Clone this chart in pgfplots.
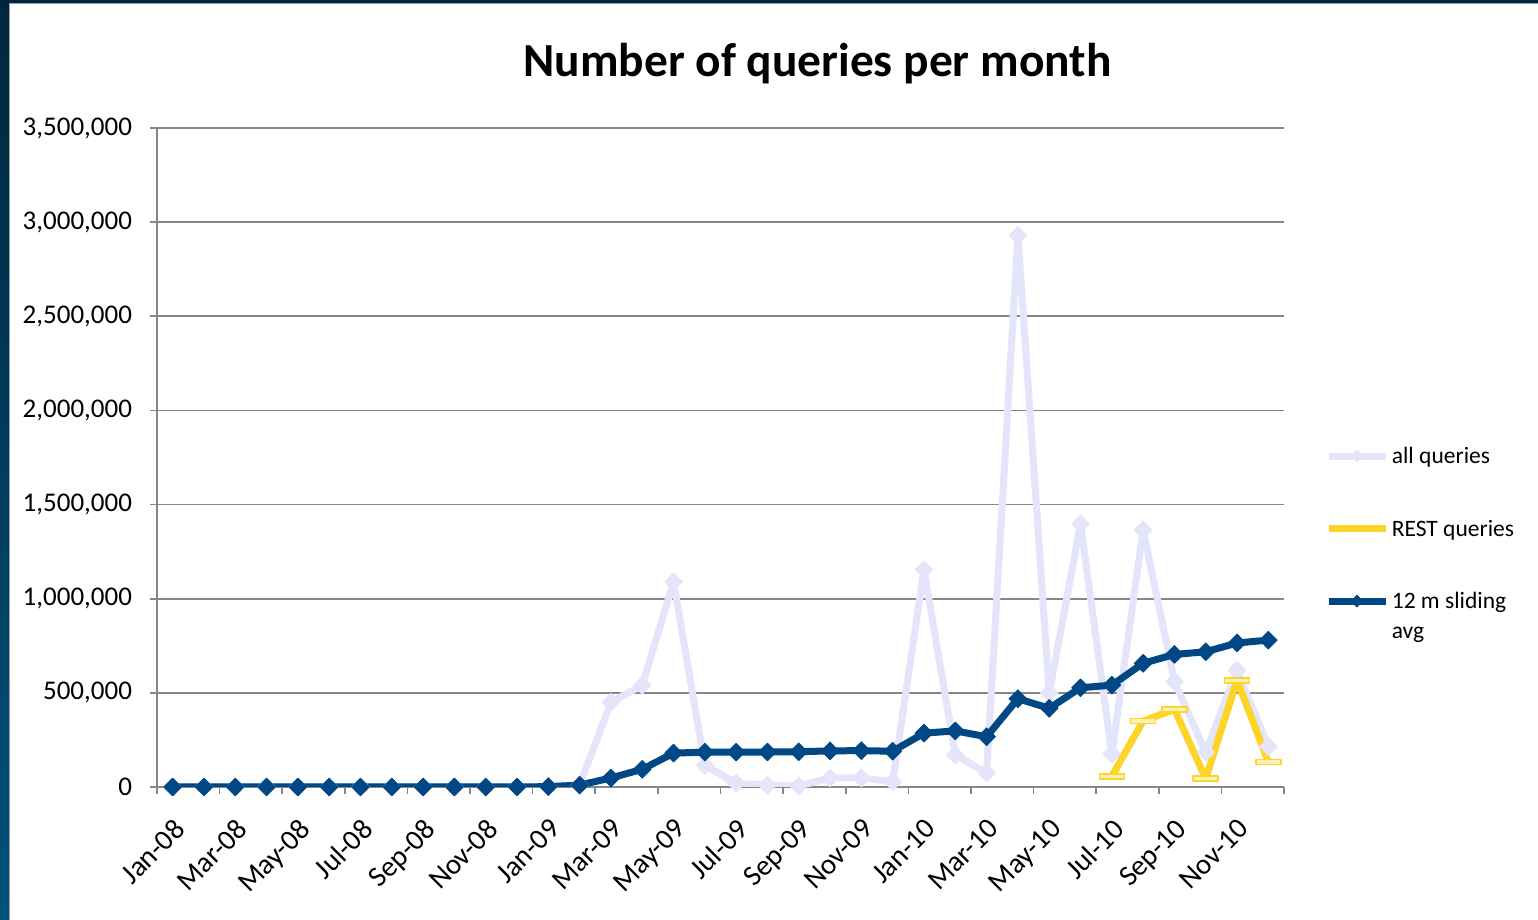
\documentclass[border=0pt]{standalone}
\usepackage{fontspec}
\setmainfont{Carlito}
\usepackage{pgfplots}
\usepackage{pgfplotstable}
\pgfplotsset{compat=1.18}
\definecolor{lav}{RGB}{228,228,250}
\definecolor{navy}{RGB}{0,71,133}
\definecolor{gold}{RGB}{255,212,40}
\definecolor{gridc}{RGB}{134,134,134}
\definecolor{bgtop}{RGB}{0,38,62}
\definecolor{bgbot}{RGB}{0,82,124}

\pgfplotstableread{
x all avg
0 0 0
1 0 0
2 0 0
3 0 0
4 0 0
5 0 0
6 0 0
7 0 0
8 0 0
9 0 0
10 0 0
11 0 0
12 2000 2000
13 10000 10000
14 450000 48000
15 540000 94000
16 1090000 180000
17 115000 185000
18 20000 185000
19 10000 186000
20 5000 187000
21 48000 192000
22 48000 193000
23 28000 190000
24 1155000 286000
25 170000 298000
26 75000 267000
27 2930000 469000
28 500000 418000
29 1398000 527000
30 175000 541000
31 1365000 657000
32 560000 704000
33 185000 718000
34 620000 765000
35 215000 780000
}\datatable

\pgfplotstableread{
x rest
30 57000
31 351000
32 412000
33 45000
34 567000
35 133000
}\resttable

\begin{document}
\begin{tikzpicture}
\useasboundingbox (0,0) rectangle (769bp,460bp);
\shade[top color=bgtop, bottom color=bgbot] (0,0) rectangle (769bp,460bp);
\draw[gridc!80, line width=0.7bp, fill=white] (4.75bp,-5bp) rectangle (775bp,458.25bp);
\node[font=\fontsize{23.8}{28}\selectfont\bfseries, anchor=base, inner sep=0pt] at (408.75bp,421.5bp) {Number of queries per month};
\begin{axis}[
  at={(78.5bp,66.5bp)}, anchor=south west,
  width=563.5bp, height=329.5bp, scale only axis,
  xmin=-0.5, xmax=35.5, ymin=0, ymax=3500000,
  axis x line=bottom, axis y line=left,
  axis line style={-, gridc, line width=0.8bp},
  tick align=outside,
  major tick length=3.5bp, minor tick length=3.5bp,
  ytick={0,500000,1000000,1500000,2000000,2500000,3000000,3500000},
  ymajorgrids, grid style={gridc, line width=0.8bp},
  scaled y ticks=false,
  /pgf/number format/assume math mode=true,
  yticklabel style={/pgf/number format/fixed, /pgf/number format/1000 sep={,}, font=\fontsize{13.55}{16}\selectfont, text=black, xshift=-5.5bp},
  ytick style={gridc, line width=0.8bp},
  xtick={0,2,...,34},
  xticklabels={Jan-08,Mar-08,May-08,Jul-08,Sep-08,Nov-08,Jan-09,Mar-09,May-09,Jul-09,Sep-09,Nov-09,Jan-10,Mar-10,May-10,Jul-10,Sep-10,Nov-10},
  major x tick style={draw=none},
  minor xtick={-0.5,1.5,...,35.5},
  minor x tick style={gridc, line width=0.8bp},
  xticklabel shift=10bp,
  xticklabel style={rotate=45, anchor=north east, font=\fontsize{14.5}{17}\selectfont, text=black, inner sep=1pt},
  legend style={at={(1.0364,0.5216)}, anchor=north west, draw=none, fill=none, inner sep=0pt, row sep=23.85bp, column sep=1.2bp,
    font=\fontsize{11.8}{15}\selectfont, nodes={inner sep=0pt, text height=10bp, text depth=2.4bp}},
  legend cell align=left,
  legend image code/.code={\draw[mark repeat=2, mark phase=2, #1, mark size=3bp] plot coordinates {(0bp,0bp) (14bp,0bp) (28.5bp,0bp)};},
]
\addplot[lav, line width=3.5bp, line join=round, mark=diamond*, mark size=4.5bp, mark options={solid, xscale=1.33, line width=0.3bp, fill=lav}] table[x=x,y=all] {\datatable};
\addlegendentry{all queries}
\addplot[gold, line width=3.5bp, line join=round, mark=square*, mark size=1.25bp, mark options={solid, xscale=5, line width=0.8bp, draw=gold, fill=gold!35},
  legend image code/.code={\draw[gold, line width=3.5bp] (0bp,0bp) -- (28.5bp,0bp);}] table[x=x,y=rest] {\resttable};
\addlegendentry{REST queries}
\addplot[navy, line width=3.5bp, line join=round, mark=diamond*, mark size=4.5bp, mark options={solid, xscale=1.33, line width=0.3bp, fill=navy}] table[x=x,y=avg] {\datatable};
\addlegendentry{\parbox[t]{70bp}{12 m sliding\\avg}}
\end{axis}
\end{tikzpicture}
\end{document}
